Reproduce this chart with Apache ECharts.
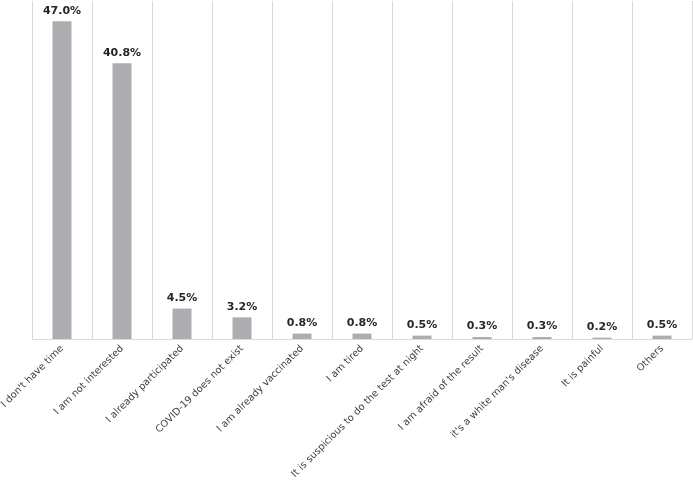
<!DOCTYPE html>
<html>
<head>
<meta charset="utf-8">
<script src="https://cdn.jsdelivr.net/npm/echarts@6/dist/echarts.min.js"></script>
<style>html,body{margin:0;padding:0;background:#fff}#c{width:693px;height:480px}</style>
</head>
<body>
<div id="c"></div>
<script>
const categories = ["I don't have time","I am not interested","I already participated","COVID-19 does not exist","I am already vaccinated","I am tired","It is suspicious to do the test at night","I am afraid of the result","it's a white man's disease","It is painful","Others"];
const values = [47.0, 40.8, 4.5, 3.2, 0.8, 0.8, 0.5, 0.3, 0.3, 0.2, 0.5];

const chart = echarts.init(document.getElementById('c'), null, {renderer:'canvas'});
chart.setOption({
  animation: false,
  grid: {left: 32, right: 1, top: 1, bottom: 141, containLabel: false, outerBoundsMode: 'none'},
  xAxis: {
    type: 'category',
    data: categories,
    boundaryGap: true,
    axisLine: {show: true, lineStyle: {color: '#d9d9d9', width: 1}},
    axisTick: {show: false},
    splitLine: {show: true, lineStyle: {color: '#d9d9d9', width: 1}},
    axisLabel: {
      interval: 0, rotate: 45, margin: 8,
      color: '#404040', fontFamily: 'DejaVu Sans', fontSize: 9.8
    }
  },
  yAxis: {
    type: 'value', min: 0, max: 50,
    show: false,
    splitLine: {show: false}
  },
  series: [{
    type: 'bar',
    data: values,
    barWidth: 19,
    itemStyle: {color: '#adadb1'},
    label: {
      show: true, position: 'top', distance: 5,
      formatter: p => p.value.toFixed(1) + '%',
      color: '#262626', fontFamily: 'DejaVu Sans', fontWeight: 'bold', fontSize: 11
    }
  }]
});
</script>
</body>
</html>
